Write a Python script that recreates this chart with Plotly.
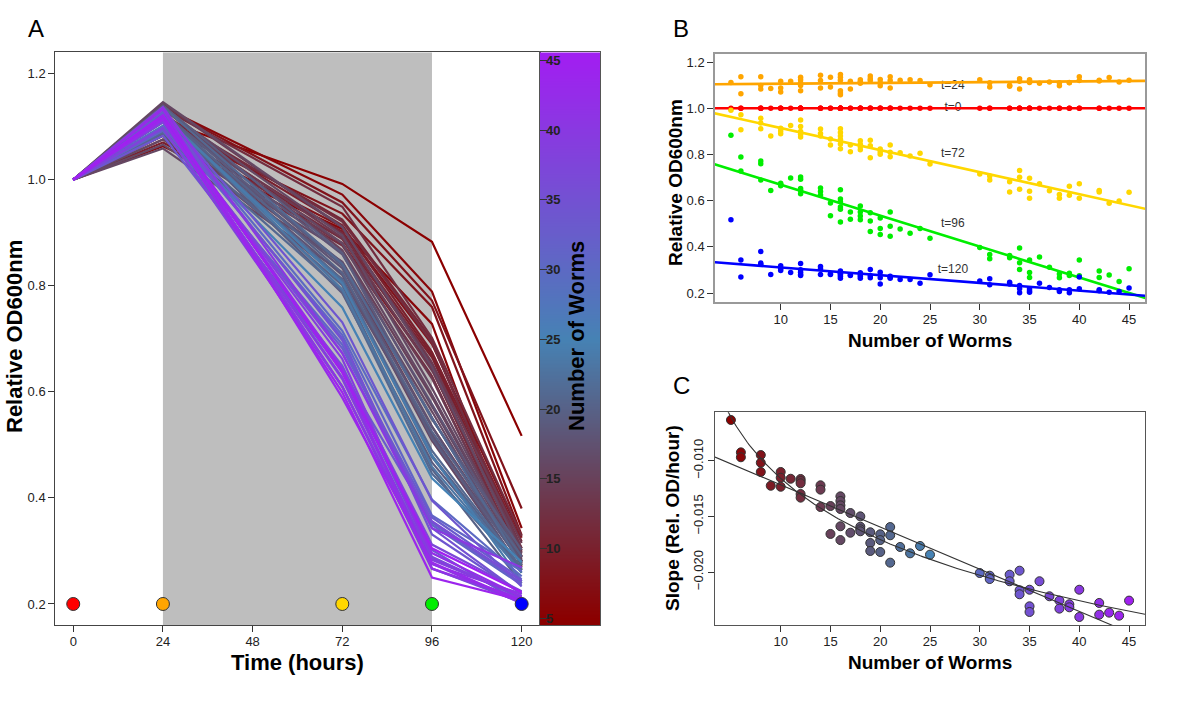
import numpy as np
import plotly.graph_objects as go
from plotly.colors import sample_colorscale

# ---------------- data ----------------
# number of worms in each well (one entry per well)
worms = [5, 6, 6, 8, 8, 8, 9, 10, 10, 10, 11, 12, 12, 12, 12, 12, 14, 14, 14, 15, 15,
         16, 16, 16, 16, 16, 16, 17, 17, 18, 18, 18, 18, 19, 19, 19, 20, 20, 20,
         21, 21, 21, 22, 23, 24, 25, 30, 31, 31, 33, 33, 34, 34, 34, 35, 35, 35,
         36, 37, 38, 38, 39, 39, 40, 40, 42, 42, 43, 44, 45]

times = [0, 24, 72, 96, 120]

# relative OD600 (normalised to t=0, so every well is 1.0 at t=0)
od_t0 = [1.0] * len(worms)
od_t24 = [1.112, 1.137, 1.063, 1.137, 1.099, 1.083, 1.086, 1.117, 1.088, 1.070, 1.117,
          1.134, 1.123, 1.111, 1.099, 1.076, 1.143, 1.120, 1.088, 1.134, 1.092,
          1.146, 1.134, 1.121, 1.076, 1.066, 1.059, 1.117, 1.083, 1.123, 1.115, 1.112, 1.108,
          1.140, 1.128, 1.120, 1.125, 1.111, 1.097, 1.137, 1.120, 1.088, 1.121, 1.123, 1.120,
          1.102, 1.123, 1.110, 1.092, 1.100, 1.095, 1.128, 1.117, 1.083, 1.123, 1.117, 1.112,
          1.108, 1.114, 1.110, 1.097, 1.112, 1.110, 1.137, 1.120, 1.121, 1.118, 1.133, 1.114, 1.121]
od_t72 = [0.992, 0.972, 0.907, 0.957, 0.936, 0.911, 0.880, 0.914, 0.902, 0.890, 0.925,
          0.949, 0.921, 0.899, 0.888, 0.876, 0.910, 0.891, 0.880, 0.867, 0.841,
          0.911, 0.895, 0.880, 0.865, 0.845, 0.825, 0.841, 0.812, 0.859, 0.844, 0.833, 0.820,
          0.862, 0.838, 0.786, 0.824, 0.812, 0.801, 0.841, 0.810, 0.790, 0.808, 0.793, 0.805,
          0.759, 0.715, 0.707, 0.689, 0.682, 0.638, 0.731, 0.701, 0.649, 0.697, 0.641, 0.610,
          0.673, 0.643, 0.627, 0.610, 0.662, 0.624, 0.673, 0.610, 0.644, 0.638, 0.589, 0.599, 0.636]
od_t96 = [0.883, 0.789, 0.728, 0.772, 0.760, 0.690, 0.644, 0.675, 0.670, 0.665, 0.698,
          0.702, 0.693, 0.653, 0.644, 0.630, 0.655, 0.640, 0.625, 0.590, 0.535,
          0.647, 0.607, 0.595, 0.573, 0.563, 0.508, 0.551, 0.520, 0.577, 0.551, 0.534, 0.517,
          0.548, 0.512, 0.467, 0.525, 0.480, 0.454, 0.551, 0.489, 0.446, 0.477, 0.459, 0.480,
          0.437, 0.397, 0.367, 0.349, 0.363, 0.353, 0.395, 0.331, 0.302, 0.343, 0.289, 0.267,
          0.356, 0.312, 0.283, 0.266, 0.286, 0.276, 0.343, 0.275, 0.296, 0.267, 0.278, 0.250, 0.305]
od_t120 = [0.517, 0.343, 0.270, 0.380, 0.330, 0.325, 0.280, 0.318, 0.305, 0.298, 0.289,
           0.328, 0.301, 0.290, 0.280, 0.276, 0.315, 0.305, 0.280, 0.283, 0.280,
           0.295, 0.288, 0.285, 0.280, 0.273, 0.264, 0.278, 0.276, 0.288, 0.280, 0.273, 0.264,
           0.302, 0.276, 0.266, 0.290, 0.266, 0.239, 0.273, 0.268, 0.264, 0.259, 0.259, 0.243,
           0.279, 0.252, 0.262, 0.236, 0.247, 0.239, 0.233, 0.219, 0.201, 0.219, 0.210, 0.203,
           0.243, 0.224, 0.214, 0.207, 0.214, 0.201, 0.269, 0.219, 0.214, 0.210, 0.204, 0.207, 0.222]

# growth slope of each well (Rel. OD / hour)
slopes = [-0.00634, -0.00925, -0.00969, -0.00949, -0.01018, -0.01101, -0.01225,
          -0.01101, -0.01153, -0.01234, -0.01162,
          -0.01164, -0.01182, -0.01203, -0.01299, -0.01332, -0.01221, -0.01260, -0.01416,
          -0.01407, -0.01658, -0.01320, -0.01362, -0.01401, -0.01434, -0.01589, -0.01713,
          -0.01470, -0.01647, -0.01500, -0.01593, -0.01616, -0.01634,
          -0.01643, -0.01739, -0.01811, -0.01661, -0.01713, -0.01820,
          -0.01596, -0.01670, -0.01916, -0.01775, -0.01832, -0.01766, -0.01844,
          -0.02009, -0.02033, -0.02063, -0.02024, -0.02083, -0.01988, -0.02164, -0.02200,
          -0.02159, -0.02308, -0.02359, -0.02083, -0.02218, -0.02257, -0.02329,
          -0.02290, -0.02317, -0.02159, -0.02404, -0.02278, -0.02383, -0.02365, -0.02392, -0.02257]

time_labels = ["t=0", "t=24", "t=72", "t=96", "t=120"]
time_colors = ["#FF0000", "#FFA500", "#FFD700", "#00EE00", "#0000FF"]

ticks_time = [0, 24, 48, 72, 96, 120]
ticks_od = [0.2, 0.4, 0.6, 0.8, 1.0, 1.2]
ticks_worms = [10, 15, 20, 25, 30, 35, 40, 45]
ticks_slope = [-0.020, -0.015, -0.010]
ticks_cbar = [5, 10, 15, 20, 25, 30, 35, 40, 45]

# ---------------- styling helpers ----------------
W, H = 1200, 716
FONT = "Liberation Sans, Arial, Helvetica, sans-serif"
cscale = [[0.0, "#8B0000"], [0.5, "#4682B4"], [1.0, "#A020F0"]]


def wcolor(w):
    return sample_colorscale(cscale, [(w - 5) / 40.0])[0]


def fx(p):
    return p / W


def fy(p):
    return 1 - p / H


series = [od_t0, od_t24, od_t72, od_t96, od_t120]

fig = go.Figure()

# ---------------- Panel A ----------------
for i, w in enumerate(worms):
    fig.add_trace(go.Scatter(
        x=times, y=[s[i] for s in series], mode="lines",
        line=dict(color=wcolor(w), width=2.2),
        xaxis="x", yaxis="y", showlegend=False, hoverinfo="skip"))

fig.add_trace(go.Scatter(
    x=times, y=[0.2] * len(times), mode="markers",
    marker=dict(size=13, color=time_colors, line=dict(color="#333", width=1)),
    xaxis="x", yaxis="y", showlegend=False, hoverinfo="skip"))

# colour key (heatmap strip)
cb_levels = np.arange(4.5, 45.61, 0.1)
fig.add_trace(go.Heatmap(
    z=[[v] for v in cb_levels], x=[0], y=cb_levels, colorscale=cscale,
    zmin=5, zmax=45, showscale=False, xaxis="x4", yaxis="y4", hoverinfo="skip"))

# ---------------- Panel B ----------------
label_x = 27.3
label_y = [1.0, 1.098, 0.80, 0.50, 0.30]
for lab, ly in zip(time_labels, label_y):
    fig.add_trace(go.Scatter(
        x=[label_x], y=[ly], mode="text", text=[lab],
        textfont=dict(family=FONT, size=12, color="#333"),
        xaxis="x2", yaxis="y2", showlegend=False, hoverinfo="skip"))

xfit = np.array([3.0, 47.0])
for s, col in zip(series, time_colors):
    fig.add_trace(go.Scatter(
        x=worms, y=s, mode="markers", marker=dict(size=5.5, color=col),
        xaxis="x2", yaxis="y2", showlegend=False, hoverinfo="skip"))
    k, b = np.polyfit(worms, s, 1)
    fig.add_trace(go.Scatter(
        x=xfit, y=k * xfit + b, mode="lines", line=dict(color=col, width=2.6),
        xaxis="x2", yaxis="y2", showlegend=False, hoverinfo="skip"))

# ---------------- Panel C ----------------
fig.add_trace(go.Scatter(
    x=worms, y=slopes, mode="markers",
    marker=dict(size=9, color=[wcolor(w) for w in worms], line=dict(color="#333", width=1)),
    xaxis="x3", yaxis="y3", showlegend=False, hoverinfo="skip"))

xs = np.linspace(3.4, 46.6, 200)
k1, b1 = np.polyfit(worms, slopes, 1)
k2, b2 = np.polyfit(np.log(worms), slopes, 1)
fig.add_trace(go.Scatter(x=xs, y=k1 * xs + b1, mode="lines",
                         line=dict(color="#333", width=1.1),
                         xaxis="x3", yaxis="y3", showlegend=False, hoverinfo="skip"))
fig.add_trace(go.Scatter(x=xs, y=k2 * np.log(xs) + b2, mode="lines",
                         line=dict(color="#333", width=1.1),
                         xaxis="x3", yaxis="y3", showlegend=False, hoverinfo="skip"))

# ---------------- layout ----------------
tickfont = dict(family=FONT, size=13, color="#222")
common = dict(showgrid=False, zeroline=False, ticks="outside", ticklen=6,
              tickcolor="#333", tickwidth=1, showline=True, mirror=True,
              tickfont=tickfont)

A_x = [fx(55.3), fx(539.6)]
A_y = [fy(625.2), fy(52.4)]
B_x = [fx(715), fx(1145)]
B_y = [fy(302.3), fy(54)]
C_y = [fy(625), fy(412.3)]
CB_range = [4.5, 45.57]

fig.update_layout(
    width=W, height=H, margin=dict(l=0, r=0, t=0, b=0),
    paper_bgcolor="white", plot_bgcolor="white",
    font=dict(family=FONT),
    showlegend=False,
    xaxis=dict(domain=A_x, range=[-4.8, 124.8], tickvals=ticks_time,
               anchor="y", linecolor="#444", linewidth=1, ticklabelstandoff=-2, **common),
    yaxis=dict(domain=A_y, range=[0.16, 1.24], tickvals=ticks_od, tickformat=".1f",
               anchor="x", linecolor="#444", linewidth=1, **common),
    xaxis4=dict(domain=[fx(540), fx(600)], range=[-0.5, 0.5], anchor="y4",
                showticklabels=False, ticks="", showgrid=False, zeroline=False,
                showline=True, mirror=True, linecolor="#555", linewidth=1),
    yaxis4=dict(domain=A_y, range=CB_range, anchor="x4", side="left",
                tickvals=ticks_cbar, ticks="inside", ticklen=7, tickcolor="#333",
                showticklabels=False, showgrid=False, zeroline=False,
                showline=True, mirror=True, linecolor="#555", linewidth=1),
    yaxis5=dict(overlaying="y4", anchor="free", position=fx(545), side="right",
                range=CB_range, tickvals=ticks_cbar, ticks="", showline=False,
                showgrid=False, zeroline=False,
                tickfont=dict(family=FONT, size=13, color="#222", weight="bold")),
    xaxis2=dict(domain=B_x, range=[3.4, 46.6], tickvals=ticks_worms, anchor="y2",
                linecolor="#999", linewidth=1.5, ticklabelstandoff=-2, **common),
    yaxis2=dict(domain=B_y, range=[0.16, 1.235], tickvals=ticks_od, tickformat=".1f",
                anchor="x2", linecolor="#999", linewidth=1.5, **common),
    xaxis3=dict(domain=B_x, range=[3.4, 46.6], tickvals=ticks_worms, anchor="y3",
                linecolor="#555", linewidth=1.2, ticklabelstandoff=-2, **common),
    yaxis3=dict(domain=C_y, range=[-0.02476, -0.00565], tickvals=ticks_slope,
                tickformat=".3f", tickangle=-90, anchor="x3",
                linecolor="#555", linewidth=1.2, **common),
    shapes=[dict(type="rect", xref="x", yref="y domain", x0=24, x1=96, y0=0, y1=1,
                 fillcolor="#BEBEBE", line=dict(width=0), layer="below")],
)

# invisible trace so the label axis (yaxis5) is drawn
fig.add_trace(go.Scatter(x=[0], y=[CB_range[0]], mode="markers", marker=dict(opacity=0),
                         xaxis="x4", yaxis="y5", showlegend=False, hoverinfo="skip"))

bold = lambda size: dict(family=FONT, size=size, color="black", weight="bold")
ann = [
    dict(text="A", x=fx(36), y=fy(28), font=dict(family=FONT, size=24, color="black")),
    dict(text="B", x=fx(681), y=fy(28), font=dict(family=FONT, size=24, color="black")),
    dict(text="C", x=fx(681), y=fy(385), font=dict(family=FONT, size=24, color="black")),
    dict(text="Relative OD600nm", x=fx(14), y=fy(337), textangle=-90, font=bold(22)),
    dict(text="Time (hours)", x=fx(297), y=fy(662), font=bold(22)),
    dict(text="Number of Worms", x=fx(577), y=fy(336), textangle=-90, font=bold(22)),
    dict(text="Relative OD600nm", x=fx(675), y=fy(183), textangle=-90, font=bold(19)),
    dict(text="Number of Worms", x=fx(930), y=fy(340), font=bold(19)),
    dict(text="Slope (Rel. OD/hour)", x=fx(672), y=fy(518), textangle=-90, font=bold(19)),
    dict(text="Number of Worms", x=fx(930), y=fy(662), font=bold(19)),
]
for a in ann:
    a.update(xref="paper", yref="paper", showarrow=False, xanchor="center", yanchor="middle")
fig.update_layout(annotations=ann)

fig.write_html("out.html", config={"displayModeBar": False},
               post_script="document.body.style.margin='0';document.body.style.overflow='hidden';")
